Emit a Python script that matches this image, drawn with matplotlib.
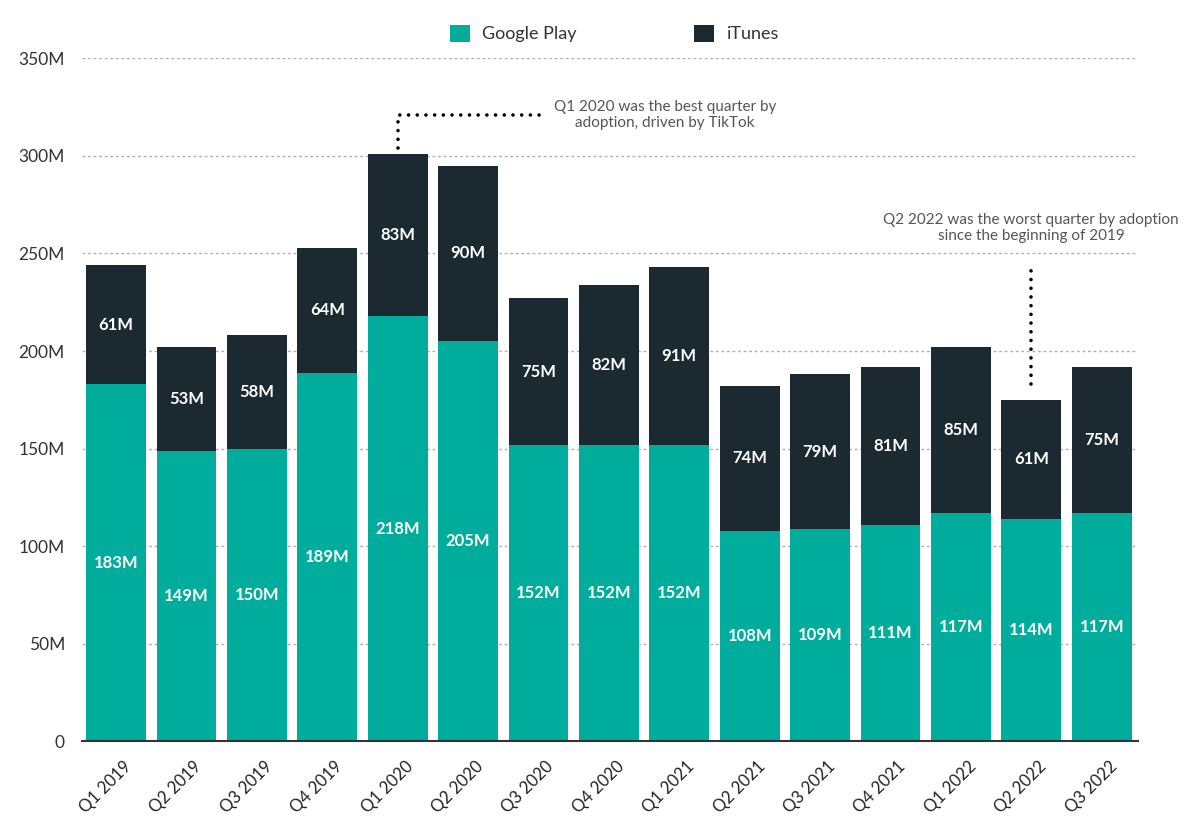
import matplotlib.pyplot as plt
import matplotlib.transforms as mtransforms
import numpy as np

quarters = ['Q1 2019', 'Q2 2019', 'Q3 2019', 'Q4 2019', 'Q1 2020', 'Q2 2020',
            'Q3 2020', 'Q4 2020', 'Q1 2021', 'Q2 2021', 'Q3 2021', 'Q4 2021',
            'Q1 2022', 'Q2 2022', 'Q3 2022']
google_play = [183, 149, 150, 189, 218, 205, 152, 152, 152, 108, 109, 111, 117, 114, 117]
itunes = [61, 53, 58, 64, 83, 90, 75, 82, 91, 74, 79, 81, 85, 61, 75]
y_ticks = [0, 50, 100, 150, 200, 250, 300, 350]
y_tick_labels = ['0', '50M', '100M', '150M', '200M', '250M', '300M', '350M']

TEAL = '#00ad9c'
DARK = '#1b2a31'
DOTS = (0, (0.01, 2.4))

plt.rcParams['font.family'] = ['Lato', 'DejaVu Sans']

fig = plt.figure(figsize=(12, 8.33), dpi=100)
ax = fig.add_axes([0.068, 0.110, 0.880, 0.820])

x = np.arange(len(quarters))
gp = np.array(google_play)
it = np.array(itunes)
ax.bar(x, gp, width=0.85, color=TEAL, zorder=2, label='Google Play')
ax.bar(x, it, width=0.85, bottom=gp, color=DARK, zorder=2, label='iTunes')

for xi, g, i in zip(x, gp, it):
  ax.text(xi, g / 2, f'{g}M', ha='center', va='center', color='white',
          fontsize=12, fontweight='bold', zorder=3)
  ax.text(xi, g + i / 2, f'{i}M', ha='center', va='center', color='white',
          fontsize=12, fontweight='bold', zorder=3)

ax.set_xlim(-0.49, 14.51)
ax.set_ylim(0, 350)
ax.set_yticks(y_ticks, y_tick_labels)
ax.set_xticks(x, quarters, rotation=45, ha='right', rotation_mode='anchor')
ax.tick_params(axis='x', length=0, labelsize=12, pad=12, colors='#222222')
ax.tick_params(axis='y', length=0, labelsize=12.5, pad=12, colors='#333333')
shift = mtransforms.ScaledTranslation(0.07, 0, fig.dpi_scale_trans)
for lbl in ax.get_xticklabels():
  lbl.set_transform(lbl.get_transform() + shift)

ax.grid(axis='y', color='#b0b0b0', linestyle=(0, (2, 2)), linewidth=1, zorder=0)
for s in ['top', 'right', 'left']:
  ax.spines[s].set_visible(False)
ax.spines['bottom'].set_color('#333333')
ax.spines['bottom'].set_linewidth(1.5)
ax.spines['bottom'].set_zorder(4)

# annotation: best quarter
q1_2020 = quarters.index('Q1 2020')
top = gp[q1_2020] + it[q1_2020]
ax.plot([q1_2020, q1_2020, q1_2020 + 2.1], [top + 3, 321, 321], color='black',
        linestyle=DOTS, linewidth=2.6, dash_capstyle='round', zorder=3,
        clip_on=False)
ax.text(q1_2020 + 3.8, 321, 'Q1 2020 was the best quarter by\nadoption, driven by TikTok',
        ha='center', va='center', fontsize=11, color='#555555', linespacing=1.25)

# annotation: worst quarter
q2_2022 = quarters.index('Q2 2022')
top = gp[q2_2022] + it[q2_2022]
ax.plot([q2_2022, q2_2022], [top + 8, 245], color='black',
        linestyle=DOTS, linewidth=2.6, dash_capstyle='round', zorder=3)
ax.text(q2_2022, 263, 'Q2 2022 was the worst quarter by adoption\nsince the beginning of 2019',
        ha='center', va='center', fontsize=11, color='#555555', linespacing=1.25)

leg = fig.legend(loc='upper center', bbox_to_anchor=(0.512, 0.99), ncol=2,
                 frameon=False, fontsize=13, handlelength=1.1, handleheight=1.1,
                 columnspacing=6.5, handletextpad=0.7)
for t in leg.get_texts():
  t.set_color('#333333')

fig.savefig('out.png', dpi=100)
